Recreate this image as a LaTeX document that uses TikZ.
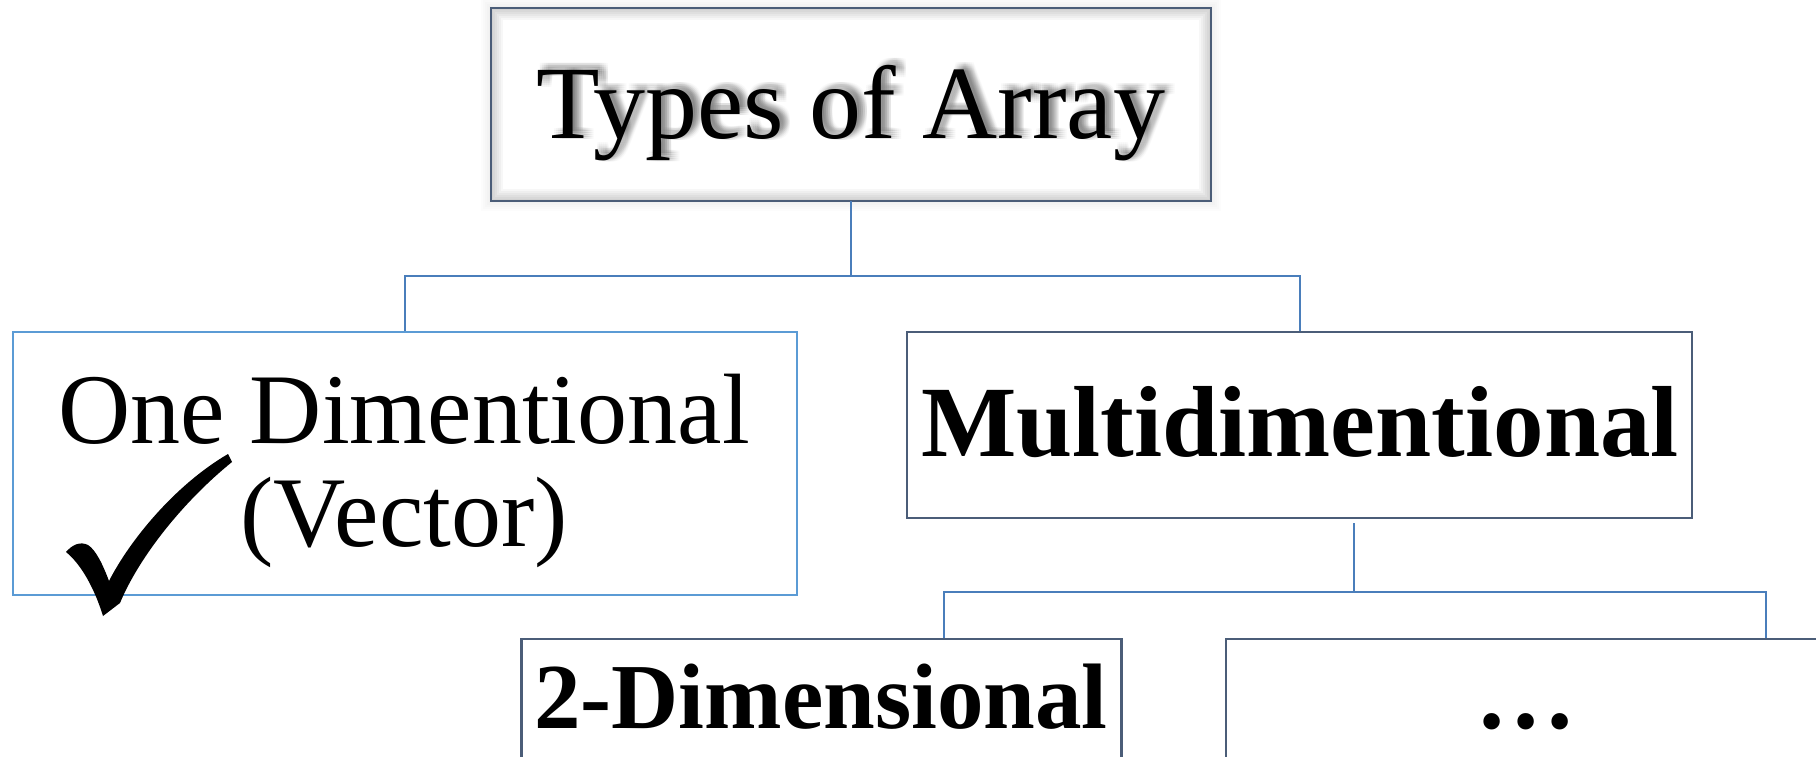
\documentclass[tikz,border=0pt]{standalone}
\usepackage{fontspec}
\setmainfont{Liberation Serif}
\usetikzlibrary{calc}
\definecolor{boxline}{HTML}{4B5D78}
\definecolor{lightline}{HTML}{5B9BD5}
\definecolor{connline}{HTML}{4A7EBB}
\newcommand\ttlfont{\fontsize{104}{110}\selectfont}
\newcommand\odfont{\fontsize{100}{103}\selectfont}
\newcommand\mdfont{\fontsize{101}{106}\selectfont\bfseries}
\newcommand\twofont{\fontsize{93}{100}\selectfont\bfseries}
\begin{document}
\begin{tikzpicture}[x=1pt,y=-1pt,
  box/.style={draw=boxline,line width=2.5pt,rectangle,inner sep=0pt,fill=white},
  frame/.style={rectangle,inner sep=0pt},
  conn/.style={draw=connline,line width=2pt},
  txt/.style={inner sep=0pt,anchor=base,text=black}]
\useasboundingbox (0,0) rectangle (1816,757);
\clip (0,0) rectangle (1816,757);
\fill[white] (0,0) rectangle (1816,757);

% title box with a soft outer glow and an inner shade
\node[frame, minimum width=720pt, minimum height=193pt] (top) at (851,104.5) {};
\foreach \w in {4,8,...,20}
  \draw[black,opacity=0.012,line width=\w pt] (top.north west) rectangle (top.south east);
\fill[white] (top.north west) rectangle (top.south east);
\begin{scope}
  \clip (top.north west) rectangle (top.south east);
  \foreach \w in {4,8,...,24}
    \draw[black,opacity=0.03,line width=\w pt] (top.north west) rectangle (top.south east);
\end{scope}
\draw[boxline,line width=2.5pt] (top.north west) rectangle (top.south east);
% blurred text shadow, cast to the upper right
\foreach \dx in {2,4,...,10}
  \foreach \dy in {-7,-5,...,1}
    \node[txt,text=black,opacity=0.022,font=\ttlfont] at (851+\dx,139+\dy) {Types of Array};
\node[txt,font=\ttlfont] (ttl) at (851,139) {Types of Array};

% second level
\node[box,draw=lightline,minimum width=784pt,minimum height=263pt] (left) at (405,463.5) {};
\node[inner sep=0pt,align=center,font=\odfont] (odtxt) at (404,471) {One Dimentional\\(Vector)};
\node[box,minimum width=785pt,minimum height=186pt] (mid) at (1299.5,425) {};
\node[txt,font=\mdfont] (mdtxt) at (1300,456) {Multidimentional};

% check mark
\fill[black] (66,552) .. controls (72,545) and (80,541) .. (88,545)
  .. controls (96,550) and (103,565) .. (109,581)
  .. controls (130,540) and (175,485) .. (228,454) -- (232,462)
  .. controls (185,500) and (140,555) .. (120,603) -- (103,616)
  .. controls (95,590) and (82,565) .. (66,552) -- cycle;

% third level
\node[box,minimum width=600pt,minimum height=200pt] (bl) at (821.5,739) {};
\node[txt,font=\twofont] (twotxt) at (821,728) {2-Dimensional};
\node[box,minimum width=600pt,minimum height=200pt] (br) at (1526,739) {};
\node[txt,font=\mdfont] (dots) at (1526,728) {…};

% connectors
\draw[conn] (top.south) -- ++(0,75) coordinate (j1) -| (left.north);
\draw[conn] (j1) -| (mid.north);
\coordinate (m0) at ($(mid.south)+(54,4)$);
\coordinate (j2) at ($(mid.south)+(54,73)$);
\draw[conn] (m0) -- (j2);
\draw[conn] (j2) -| ($(bl.north)+(122,0)$);
\draw[conn] (j2) -| ($(br.north)+(240,0)$);
\end{tikzpicture}
\end{document}
